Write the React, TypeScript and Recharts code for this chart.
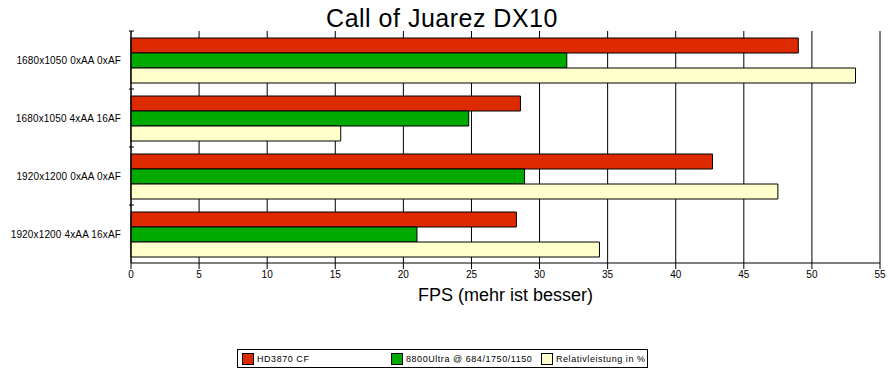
import { BarChart, Bar, XAxis, YAxis, CartesianGrid, Label } from 'recharts';

const categories = ['1680x1050 0xAA 0xAF', '1680x1050 4xAA 16AF', '1920x1200 0xAA 0xAF', '1920x1200 4xAA 16xAF'];
const hd3870 = [49.0, 28.6, 42.7, 28.3];
const ultra8800 = [32.0, 24.8, 28.9, 21.0];
const relativ = [53.2, 15.4, 47.5, 34.4];
const xTicks = [0, 5, 10, 15, 20, 25, 30, 35, 40, 45, 50, 55];

const SERIES = [
  { key: 'hd', name: 'HD3870 CF', color: '#dd2a00', values: hd3870 },
  { key: 'ultra', name: '8800Ultra @ 684/1750/1150', color: '#00aa00', values: ultra8800 },
  { key: 'rel', name: 'Relativleistung in %', color: '#ffffcc', values: relativ },
];

const W = 888;
const H = 376;
const X_AXIS_H = 20;
const M = { top: 31, right: 8, bottom: 93, left: 0 };
const BAND = (H - M.top - M.bottom - X_AXIS_H) / categories.length;
const FONT = '"Liberation Sans", Arial, sans-serif';

const data = categories.map((c, i) => ({
  name: c,
  hd: hd3870[i],
  ultra: ultra8800[i],
  rel: relativ[i],
}));

function CatTick(props: any) {
  const { x, y, payload } = props;
  return (
    <g>
      <line x1={x + 6} x2={x + 11} y1={y - BAND / 2} y2={y - BAND / 2} stroke="#000" />
      <text x={x - 2} y={y} dy="0.35em" textAnchor="end" fontSize={10} fontFamily={FONT} fill="#000" letterSpacing={0.15}>
        {payload.value}
      </text>
    </g>
  );
}

function LegendBox() {
  return (
    <div style={{ position: 'absolute', left: 237, top: 349, width: 411, height: 19, border: '1px solid #000', boxSizing: 'border-box', background: '#fff', fontFamily: FONT, fontSize: 9 }}>
      {SERIES.map((s, i) => (
        <div key={s.key} style={{ position: 'absolute', left: [4, 153, 303][i], top: 3, display: 'flex', alignItems: 'center', whiteSpace: 'nowrap' }}>
          <span style={{ width: 10, height: 10, background: s.color, border: '1px solid #000', marginRight: 3, display: 'inline-block' }} />
          <span style={{ letterSpacing: 0.55 }}>{s.name}</span>
        </div>
      ))}
    </div>
  );
}

export default function App() {
  return (
    <div style={{ position: 'absolute', left: 0, top: 0, width: W, height: H, background: '#fff' }}>
      <div style={{ position: 'absolute', left: -2, top: 4, width: W, textAlign: 'center', fontFamily: FONT, fontSize: 25, color: '#000', letterSpacing: 0.5 }}>
        Call of Juarez DX10
      </div>
      <BarChart
        width={W}
        height={H}
        data={data}
        layout="vertical"
        margin={M}
        barCategoryGap={7}
        barGap={0}
      >
        <CartesianGrid horizontal={false} stroke="#000" strokeOpacity={1} />
        <XAxis
          type="number"
          domain={[0, 55]}
          ticks={xTicks}
          interval={0}
          tickSize={6}
          height={X_AXIS_H}
          stroke="#000"
          tick={{ fill: '#000', fontSize: 10, fontFamily: FONT }}
        >
          <Label value="FPS (mehr ist besser)" position="bottom" offset={5} style={{ fontSize: 18, fontFamily: FONT, fill: '#000' }} />
        </XAxis>
        <YAxis
          type="category"
          dataKey="name"
          width={131}
          stroke="#000"
          tickLine={false}
          tick={<CatTick />}
        />
        {SERIES.map((s) => (
          <Bar key={s.key} dataKey={s.key} name={s.name} fill={s.color} stroke="#000" strokeWidth={1} isAnimationActive={false} />
        ))}
      </BarChart>
      <LegendBox />
    </div>
  );
}
